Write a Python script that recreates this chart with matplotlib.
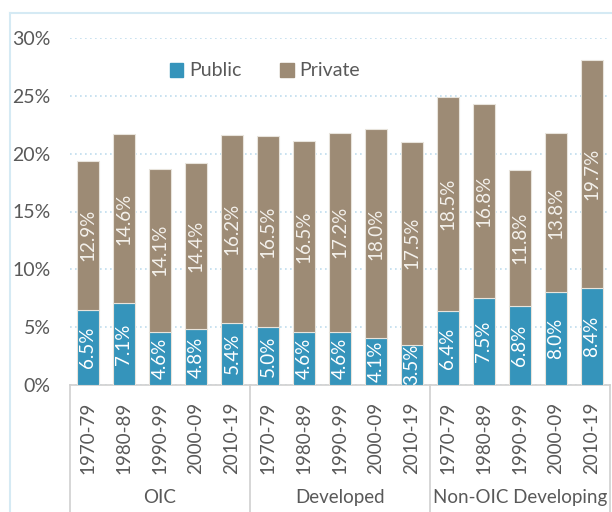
import matplotlib.pyplot as plt
import matplotlib.transforms as mtransforms
from matplotlib.patches import Patch
from matplotlib.lines import Line2D
import numpy as np

plt.rcParams['font.family'] = ['Lato', 'DejaVu Sans']

groups = ['OIC', 'Developed', 'Non-OIC Developing']
periods = ['1970-79', '1980-89', '1990-99', '2000-09', '2010-19']
public = [6.5, 7.1, 4.6, 4.8, 5.4,
          5.0, 4.6, 4.6, 4.1, 3.5,
          6.4, 7.5, 6.8, 8.0, 8.4]
private = [12.9, 14.6, 14.1, 14.4, 16.2,
           16.5, 16.5, 17.2, 18.0, 17.5,
           18.5, 16.8, 11.8, 13.8, 19.7]

c_pub = '#3594BB'
c_priv = '#9D8B75'
txt = '#595959'
box = '#D0D0D0'

fig = plt.figure(figsize=(6.12, 5.12), dpi=100)
ax = fig.add_axes([70 / 612, 1 - 385 / 512, 540 / 612, 347 / 512])

x = np.arange(len(public))
pub = np.array(public) / 100
priv = np.array(private) / 100
ax.bar(x, pub, width=0.62, color=c_pub, edgecolor='#E8E4DC', linewidth=0.8, label='Public', zorder=3)
ax.bar(x, priv, width=0.62, bottom=pub, color=c_priv, edgecolor='#E8E4DC', linewidth=0.8, label='Private', zorder=3)

for i in range(len(x)):
    ax.text(x[i], pub[i] / 2, f'{public[i]:.1f}%', rotation=90, ha='center', va='center',
            color='white', fontsize=13.5, zorder=4)
    ax.text(x[i], pub[i] + priv[i] / 2, f'{private[i]:.1f}%', rotation=90, ha='center', va='center',
            color='#F4F1EC', fontsize=13.5, zorder=4)

ax.set_xlim(-0.5, len(x) - 0.5)
ax.set_ylim(0, 0.30)
ax.set_yticks(np.arange(0, 0.31, 0.05))
ax.set_yticklabels([f'{int(round(v * 100))}%' for v in np.arange(0, 0.31, 0.05)])
ax.yaxis.grid(True, linestyle=(0, (1, 2)), color='#BFDDEE', linewidth=1.2, zorder=0)
ax.tick_params(axis='y', length=0, labelsize=14, labelcolor=txt, pad=14)
ax.set_xticks(x)
ax.set_xticklabels(periods * 3, rotation=90)
ax.tick_params(axis='x', length=0, labelsize=13.5, labelcolor=txt, pad=12)
for s in ax.spines.values():
    s.set_visible(False)

# category box under the bars
trans = mtransforms.blended_transform_factory(ax.transData, ax.transAxes)
ax.add_line(Line2D([-0.5, 14.5], [0, 0], transform=trans, color=box, lw=1.2, clip_on=False))
for b in [-0.5, 4.5, 9.5, 14.5]:
    ax.add_line(Line2D([b, b], [0, -0.4], transform=trans, color=box, lw=1.2, clip_on=False))
for g, name in enumerate(groups):
    ax.text(g * 5 + 2, -0.323, name, transform=trans, ha='center', va='center',
            fontsize=13.5, color=txt)

handles = [Patch(color=c_pub), Patch(color=c_priv)]
fig.legend(handles, ['Public', 'Private'], loc='center left', bbox_to_anchor=(152 / 612, 1 - 71 / 512),
           ncol=2, frameon=False, fontsize=14, labelcolor=txt, handlelength=0.7, handleheight=0.7,
           handletextpad=0.3, columnspacing=2.0)

# light outer frame
fig.add_artist(Line2D([10 / 612, 10 / 612], [0, 1 - 13 / 512], transform=fig.transFigure, color='#D5EAF4', lw=1.5))
fig.add_artist(Line2D([10 / 612, 1], [1 - 13 / 512, 1 - 13 / 512], transform=fig.transFigure, color='#D5EAF4', lw=1.5))

fig.savefig('out.png', dpi=100)
